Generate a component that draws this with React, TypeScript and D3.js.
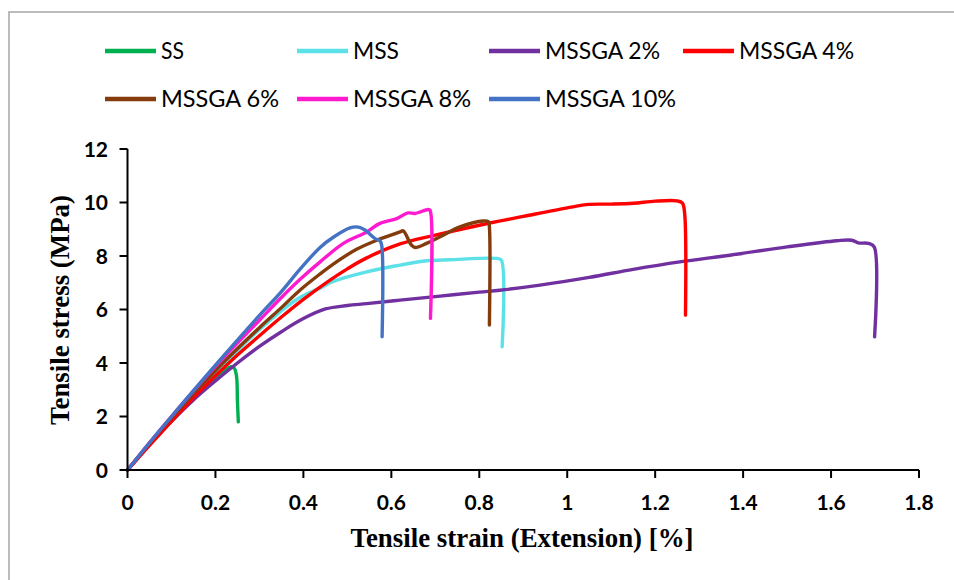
import React from "react";
import * as d3 from "d3";

const seriesNames = ["SS", "MSS", "MSSGA 2%", "MSSGA 4%", "MSSGA 6%", "MSSGA 8%", "MSSGA 10%"];
const seriesColors = ["#00b050", "#5ce1e8", "#7030a0", "#ff0000", "#843c0c", "#ff1ad0", "#4472c4"];

const ss: [number, number][] = [
  [0, 0], [0.05, 0.95], [0.1, 1.85], [0.15, 2.68], [0.2, 3.4], [0.235, 3.86], [0.243, 3.8], [0.248, 3.5], [0.25, 2.6], [0.252, 1.8],
];
const mss: [number, number][] = [
  [0, 0], [0.05, 0.97], [0.1, 1.9], [0.2, 3.65], [0.3, 5.25], [0.35, 5.95], [0.392, 6.45], [0.438, 6.8], [0.468, 7.05],
  [0.544, 7.41], [0.62, 7.66], [0.68, 7.82], [0.733, 7.86], [0.84, 7.91], [0.85, 7.85], [0.852, 4.61],
];
const mssga2: [number, number][] = [
  [0, 0], [0.05, 0.95], [0.1, 1.82], [0.15, 2.62], [0.2, 3.33], [0.25, 4.0], [0.3, 4.62], [0.35, 5.17], [0.4, 5.66], [0.45, 6.02],
  [0.5, 6.15], [0.544, 6.22], [0.62, 6.35], [0.711, 6.5], [0.8, 6.65], [0.847, 6.72], [0.938, 6.91], [1.05, 7.2], [1.15, 7.5],
  [1.256, 7.78], [1.37, 8.03], [1.5, 8.34], [1.613, 8.57], [1.647, 8.59], [1.662, 8.49], [1.685, 8.47], [1.698, 8.34], [1.699, 4.98],
];
const mssga4: [number, number][] = [
  [0, 0], [0.05, 0.92], [0.1, 1.82], [0.15, 2.7], [0.2, 3.52], [0.25, 4.3], [0.3, 5.02], [0.35, 5.72], [0.4, 6.38], [0.45, 6.98],
  [0.5, 7.52], [0.544, 7.93], [0.62, 8.45], [0.7, 8.78], [0.8, 9.15], [0.9, 9.48], [1.0, 9.8], [1.05, 9.93], [1.1, 9.94],
  [1.15, 9.97], [1.2, 10.05], [1.25, 10.06], [1.262, 9.98], [1.267, 9.6], [1.269, 5.79],
];
const mssga6: [number, number][] = [
  [0, 0], [0.05, 1.0], [0.1, 1.95], [0.2, 3.72], [0.3, 5.32], [0.35, 6.07], [0.392, 6.72], [0.438, 7.33], [0.468, 7.7],
  [0.521, 8.25], [0.567, 8.59], [0.62, 8.9], [0.627, 8.94], [0.646, 8.4], [0.654, 8.32], [0.68, 8.47], [0.711, 8.72],
  [0.756, 9.09], [0.809, 9.31], [0.821, 9.28], [0.823, 9.09], [0.823, 5.42],
];
const mssga8: [number, number][] = [
  [0, 0], [0.05, 1.02], [0.1, 2.0], [0.2, 3.87], [0.3, 5.6], [0.35, 6.45], [0.392, 7.12], [0.438, 7.78], [0.491, 8.47],
  [0.544, 8.9], [0.574, 9.22], [0.612, 9.4], [0.638, 9.61], [0.654, 9.59], [0.684, 9.74], [0.688, 9.71], [0.689, 5.67],
];
const mssga10: [number, number][] = [
  [0, 0], [0.05, 1.02], [0.1, 2.0], [0.2, 3.92], [0.3, 5.78], [0.35, 6.67], [0.392, 7.5], [0.438, 8.32], [0.468, 8.7],
  [0.506, 9.05], [0.525, 9.08], [0.54, 8.97], [0.563, 8.65], [0.574, 8.57], [0.578, 8.4], [0.579, 4.98],
];
const seriesData = [ss, mss, mssga2, mssga4, mssga6, mssga8, mssga10];

const xTicks = [0, 0.2, 0.4, 0.6, 0.8, 1, 1.2, 1.4, 1.6, 1.8];
const yTicks = [0, 2, 4, 6, 8, 10, 12];
const xTitle = "Tensile strain (Extension) [%]";
const yTitle = "Tensile stress (MPa)";

export default function App() {
  const x = d3.scaleLinear().domain([0, 1.8]).range([127.5, 919]);
  const y = d3.scaleLinear().domain([0, 12]).range([470, 149]);
  const line = d3
    .line<[number, number]>()
    .x((d) => x(d[0]))
    .y((d) => y(d[1]))
    .curve(d3.curveCatmullRom.alpha(0.5));

  const legendCols = [105, 297, 489, 683];
  const legendRows = [51, 99];
  const legendTextW = [23, 46, 115, 115, 118, 118, 131];

  return (
    <svg
      width={954}
      height={580}
      style={{ position: "absolute", left: 0, top: 0, background: "#fff" }}
    >
      <rect x={0} y={0} width={954} height={580} fill="#fff" />
      <rect x={9} y={12} width={960} height={600} fill="none" stroke="#a6a6a6" strokeWidth={1.5} />

      {/* legend */}
      {seriesNames.map((name, i) => {
        const col = i < 4 ? i : i - 4;
        const row = i < 4 ? 0 : 1;
        const lx = legendCols[col];
        const ly = legendRows[row];
        return (
          <g key={name}>
            <line x1={lx} x2={lx + 51} y1={ly} y2={ly} stroke={seriesColors[i]} strokeWidth={4.5} />
            <text
              x={lx + 56}
              y={ly + 8}
              fontFamily="Lato"
              fontSize={23}
              fill="#000"
              textLength={legendTextW[i]}
              lengthAdjust="spacingAndGlyphs"
            >
              {name}
            </text>
          </g>
        );
      })}

      {/* series */}
      {seriesData.map((d, i) => (
        <path
          key={i}
          d={line(d) || ""}
          fill="none"
          stroke={seriesColors[i]}
          strokeWidth={3.4}
          strokeLinejoin="round"
          strokeLinecap="round"
        />
      ))}

      {/* axes */}
      <line x1={x(0)} x2={x(0)} y1={y(12)} y2={y(0)} stroke="#000" strokeWidth={2} />
      <line x1={x(0)} x2={x(1.8)} y1={y(0)} y2={y(0)} stroke="#000" strokeWidth={2} />
      {yTicks.map((t) => (
        <g key={"y" + t}>
          <line x1={x(0) - 8} x2={x(0)} y1={y(t)} y2={y(t)} stroke="#000" strokeWidth={2} />
          <text
            x={108}
            y={y(t) + 7.5}
            textAnchor="end"
            fontFamily="Lato"
            fontWeight="bold"
            fontSize={21}
            fill="#000"
          >
            {t}
          </text>
        </g>
      ))}
      {xTicks.map((t) => (
        <g key={"x" + t}>
          <line x1={x(t)} x2={x(t)} y1={y(0)} y2={y(0) + 8} stroke="#000" strokeWidth={2} />
          <text
            x={x(t)}
            y={510}
            textAnchor="middle"
            fontFamily="Lato"
            fontWeight="bold"
            fontSize={21}
            fill="#000"
          >
            {String(t)}
          </text>
        </g>
      ))}

      <text
        x={522}
        y={547}
        textAnchor="middle"
        fontFamily="Liberation Serif"
        fontWeight="bold"
        fontSize={27}
        fill="#000"
        textLength={343}
        lengthAdjust="spacingAndGlyphs"
      >
        {xTitle}
      </text>
      <text
        transform="translate(69,310) rotate(-90)"
        textAnchor="middle"
        fontFamily="Liberation Serif"
        fontWeight="bold"
        fontSize={28}
        fill="#000"
        textLength={230}
        lengthAdjust="spacingAndGlyphs"
      >
        {yTitle}
      </text>
    </svg>
  );
}
